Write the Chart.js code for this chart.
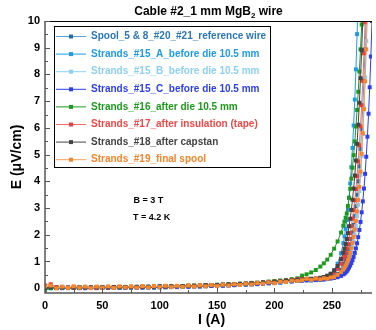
<!DOCTYPE html>
<html>
<head>
<meta charset="utf-8">
<script src="https://cdn.jsdelivr.net/npm/chart.js@4.4.1/dist/chart.umd.min.js"></script>
<style>
  html, body { margin: 0; padding: 0; background: #fff; }
  #wrap { width: 376px; height: 330px; }
</style>
</head>
<body>
<div id="wrap"><canvas id="ec" width="376" height="330"></canvas></div>
<script>
// current grid (A)
const current = [0,5,10,15,20,25,30,35,40,45,50,55,60,65,70,75,80,85,90,95,100,105,110,115,120,125,130,135,140,145,150,155,160,165,170,175,180,185,190,195,200,205,210,215,220,
  224,228,232,236,240,243,246,249,252,255,258,
  260,261,262,263,264,265,266,267,268,269,270,271,272,273,274,275,276,277,278,279,280,281,282,283,284,285,286];

// E (uV/cm) per sample
const spool = [0.01,0.00,0.00,0.01,0.00,0.01,0.00,0.01,0.01,0.00,0.01,0.01,0.01,0.02,0.01,0.02,0.02,0.02,0.03,0.02,0.03,0.03,0.04,0.04,0.05,0.05,0.06,0.06,0.07,0.08,0.08,0.09,0.10,0.11,0.12,0.13,0.14,0.15,0.17,0.18,0.19,0.21,0.23,0.25,0.27,
  0.28,0.29,0.29,0.30,0.31,0.33,0.35,0.39,0.45,0.54,0.69,
  0.83,0.92,1.03,1.15,1.29,1.45,1.63,1.84,2.09,2.37,2.70,3.07,3.50,4.00,4.56,5.21,5.96,6.82,7.81,8.94,10.2,11.7];
const strandA = [0.03,0.02,0.01,0.02,0.02,0.01,0.02,0.02,0.03,0.02,0.02,0.03,0.03,0.03,0.04,0.03,0.04,0.04,0.04,0.05,0.05,0.06,0.06,0.06,0.07,0.08,0.08,0.09,0.10,0.10,0.11,0.12,0.13,0.14,0.15,0.16,0.17,0.19,0.20,0.21,0.23,0.24,0.26,0.28,0.29,
  0.31,0.32,0.32,0.33,0.36,0.39,0.45,0.54,0.68,0.92,1.31,
  1.69,1.94,2.22,2.55,2.94,3.39,3.92,4.53,5.25,6.09,7.06,8.19,9.51,11.0];
const strandB = [0.04,0.03,0.03,0.02,0.03,0.03,0.02,0.03,0.03,0.03,0.04,0.03,0.04,0.04,0.04,0.05,0.05,0.05,0.05,0.06,0.06,0.06,0.07,0.07,0.08,0.08,0.09,0.10,0.10,0.11,0.12,0.13,0.14,0.15,0.16,0.17,0.18,0.19,0.21,0.22,0.24,0.25,0.27,0.29,0.30,
  0.31,0.32,0.32,0.33,0.34,0.35,0.36,0.38,0.41,0.46,0.55,
  0.64,0.70,0.76,0.84,0.94,1.05,1.18,1.34,1.53,1.75,2.01,2.32,2.69,3.12,3.63,4.23,4.94,5.77,6.75,7.89,9.25,10.8];
const strandC = [0.00,0.01,0.01,0.00,0.01,0.01,0.01,0.00,0.01,0.01,0.02,0.01,0.02,0.02,0.02,0.03,0.02,0.03,0.03,0.03,0.04,0.04,0.05,0.05,0.06,0.06,0.07,0.07,0.08,0.09,0.09,0.10,0.11,0.12,0.13,0.14,0.15,0.16,0.17,0.19,0.20,0.22,0.24,0.26,0.28,
  0.29,0.30,0.30,0.31,0.32,0.33,0.34,0.36,0.38,0.41,0.46,
  0.52,0.55,0.59,0.64,0.70,0.77,0.85,0.94,1.05,1.17,1.32,1.49,1.68,1.91,2.18,2.48,2.84,3.25,3.73,4.28,4.92,5.67,6.53,7.52,8.67,10.0,11.5];
const strand16 = [-0.08,0.00,0.01,0.02,0.01,0.02,0.02,0.03,0.02,0.03,0.03,0.03,0.04,0.03,0.04,0.04,0.05,0.05,0.05,0.06,0.06,0.07,0.07,0.08,0.08,0.09,0.10,0.10,0.11,0.12,0.13,0.14,0.15,0.16,0.17,0.18,0.20,0.21,0.23,0.25,0.27,0.29,0.31,0.34,0.37,
  0.47,0.52,0.59,0.68,0.81,0.93,1.07,1.25,1.48,1.75,2.08,
  2.34,2.49,2.64,2.80,3.08,3.38,3.72,4.10,4.51,4.98,5.49,6.05,6.67,7.35,8.11,8.94,9.87,10.9];
const strand17 = [0.10,0.15,0.04,0.03,0.03,0.02,0.03,0.03,0.03,0.02,0.03,0.03,0.04,0.04,0.04,0.04,0.05,0.05,0.05,0.06,0.06,0.06,0.07,0.07,0.08,0.09,0.09,0.10,0.11,0.11,0.12,0.13,0.14,0.15,0.16,0.17,0.19,0.20,0.22,0.23,0.25,0.27,0.29,0.31,0.34,
  0.34,0.35,0.35,0.36,0.38,0.41,0.44,0.50,0.59,0.72,0.92,
  1.10,1.21,1.34,1.49,1.65,1.85,2.06,2.32,2.60,2.92,3.29,3.71,4.19,4.74,5.35,6.06,6.85,7.76,8.79,9.95,11.2];
const strand18 = [0.02,0.03,0.02,0.03,0.02,0.03,0.03,0.03,0.03,0.04,0.04,0.04,0.04,0.05,0.05,0.05,0.05,0.06,0.06,0.06,0.07,0.07,0.07,0.08,0.08,0.09,0.09,0.10,0.11,0.11,0.12,0.13,0.14,0.15,0.16,0.17,0.18,0.19,0.21,0.22,0.24,0.26,0.28,0.30,0.32,
  0.33,0.34,0.35,0.36,0.39,0.42,0.47,0.54,0.66,0.83,1.09,
  1.33,1.48,1.65,1.84,2.06,2.32,2.60,2.93,3.31,3.73,4.22,4.78,5.40,6.12,6.94,7.86,8.91,10.1,11.4];
const strand19 = [0.05,0.10,0.00,0.06,0.01,0.07,0.02,0.06,0.00,0.06,0.02,0.07,0.01,0.07,0.03,0.07,0.02,0.08,0.03,0.08,0.04,0.09,0.04,0.09,0.05,0.10,0.06,0.11,0.07,0.12,0.08,0.13,0.10,0.15,0.12,0.17,0.14,0.19,0.17,0.22,0.19,0.24,0.23,0.28,0.27,
  0.30,0.35,0.31,0.36,0.33,0.37,0.35,0.40,0.41,0.50,0.60,
  0.70,0.77,0.85,0.94,1.05,1.17,1.32,1.49,1.69,1.92,2.19,2.51,2.87,3.30,3.79,4.36,5.03,5.80,6.70,7.74,8.94,10.3,11.9];

const labels = [
  "Spool_5 & 8_#20_#21_reference wire",
  "Strands_#15_A_before die 10.5 mm",
  "Strands_#15_B_before die 10.5 mm",
  "Strands_#15_C_before die 10.5 mm",
  "Strands_#16_after die 10.5 mm",
  "Strands_#17_after insulation (tape)",
  "Strands_#18_after capstan",
  "Strands_#19_final spool"
];
const series = [spool, strandA, strandB, strandC, strand16, strand17, strand18, strand19];

const xTicks = [0, 50, 100, 150, 200, 250];
const yTicks = [0, 1, 2, 3, 4, 5, 6, 7, 8, 9, 10];

// style
const lineColors = ["#5a9fd4", "#1f9be8", "#8dd0f5", "#2b3ef0", "#1e9a1e", "#f36a6a", "#444444", "#f7a05a"];
const markColors = ["#1f6eae", "#1f9be8", "#8dd0f5", "#2b3ef0", "#1e9a1e", "#f03c3c", "#444444", "#f5862a"];
const textColors = ["#2b77b5", "#1f9be8", "#8dd0f5", "#2b3ef0", "#1e9a1e", "#f04848", "#444444", "#f5842a"];
const FONT = "'Liberation Sans', Arial, sans-serif";

const frame = {
  id: "frame",
  afterDatasetsDraw(chart) {
    const { ctx, chartArea: a } = chart;
    // legend box
    const bx = a.left + 9, by = a.top + 5, bw = 216, bh = 141;
    ctx.save();
    ctx.fillStyle = "#fff";
    ctx.fillRect(bx, by, bw, bh);
    ctx.strokeStyle = "#000";
    ctx.lineWidth = 1;
    ctx.strokeRect(bx + 0.5, by + 0.5, bw, bh);
    ctx.font = "bold 10px " + FONT;
    ctx.textBaseline = "middle";
    labels.forEach((t, i) => {
      const yy = by + 10.5 + i * 17.6;
      ctx.strokeStyle = lineColors[i];
      ctx.beginPath();
      ctx.moveTo(bx + 2, yy);
      ctx.lineTo(bx + 32, yy);
      ctx.stroke();
      ctx.fillStyle = markColors[i];
      ctx.fillRect(bx + 15, yy - 2, 4, 4);
      ctx.fillStyle = textColors[i];
      ctx.fillText(t, bx + 37, yy);
    });
    ctx.restore();
  },
  afterDraw(chart) {
    const { ctx, chartArea: a, scales: { x, y } } = chart;
    ctx.save();
    // axes
    ctx.strokeStyle = "#000";
    ctx.lineWidth = 1;
    ctx.beginPath();
    ctx.moveTo(a.left, a.top + 0.5);
    ctx.lineTo(a.right, a.top + 0.5);
    ctx.stroke();
    ctx.strokeStyle = "#555";
    ctx.lineWidth = 1.5;
    ctx.beginPath();
    ctx.moveTo(a.left, a.top);
    ctx.lineTo(a.left, a.bottom);
    ctx.lineTo(a.right, a.bottom);
    ctx.stroke();
    // inward ticks
    ctx.lineWidth = 1;
    ctx.beginPath();
    for (let v = 0; v <= 285; v += 25) {
      const px = Math.round(x.getPixelForValue(v)) + 0.5;
      const len = v % 50 === 0 ? 5 : 3;
      ctx.moveTo(px, a.bottom);
      ctx.lineTo(px, a.bottom - len);
    }
    for (let v = 0; v <= 10; v += 0.5) {
      const py = Math.round(y.getPixelForValue(v)) + 0.5;
      const len = Number.isInteger(v) ? 5 : 3;
      ctx.moveTo(a.left, py);
      ctx.lineTo(a.left + len, py);
    }
    ctx.stroke();

    // title with subscript
    ctx.fillStyle = "#000";
    ctx.textBaseline = "middle";
    ctx.textAlign = "left";
    const big = "bold 12px " + FONT, small = "bold 8px " + FONT;
    ctx.font = big;
    const p1 = "Cable #2_1 mm MgB", p3 = " wire";
    const w1 = ctx.measureText(p1).width, w3 = ctx.measureText(p3).width;
    ctx.font = small;
    const w2 = ctx.measureText("2").width;
    let tx = (a.left + a.right) / 2 - (w1 + w2 + w3) / 2;
    const ty = 12;
    ctx.font = big;
    ctx.fillText(p1, tx, ty);
    ctx.font = small;
    ctx.fillText("2", tx + w1, ty + 4);
    ctx.font = big;
    ctx.fillText(p3, tx + w1 + w2, ty);

    // axis titles
    ctx.font = "bold 14px " + FONT;
    ctx.textAlign = "center";
    ctx.fillText("I (A)", (a.left + a.right) / 2 + 3, 320);
    ctx.save();
    ctx.translate(17, (a.top + a.bottom) / 2);
    ctx.rotate(-Math.PI / 2);
    ctx.fillText("E (\u03BCV/cm)", 0, 0);
    ctx.restore();

    // conditions
    ctx.font = "bold 9px " + FONT;
    ctx.fillText("B = 3 T", x.getPixelForValue(90), y.getPixelForValue(3.3));
    ctx.fillText("T = 4.2 K", x.getPixelForValue(93), y.getPixelForValue(2.63));
    ctx.restore();
  }
};

new Chart(document.getElementById("ec").getContext("2d"), {
  type: "line",
  data: {
    datasets: series.map((vals, i) => ({
      label: labels[i],
      data: vals.map((v, k) => ({ x: current[k], y: v })),
      borderColor: lineColors[i],
      backgroundColor: markColors[i],
      pointBackgroundColor: markColors[i],
      pointBorderColor: markColors[i],
      borderWidth: 1,
      pointStyle: "rect",
      pointRadius: 2.8,
      pointBorderWidth: 0,
      tension: 0,
      order: series.length - i
    }))
  },
  options: {
    responsive: false,
    animation: false,
    devicePixelRatio: 1,
    layout: { padding: { top: 21, right: 0, left: 0, bottom: 0 } },
    plugins: { legend: { display: false }, tooltip: { enabled: false }, title: { display: false } },
    scales: {
      x: {
        type: "linear",
        min: 0,
        max: 285,
        afterBuildTicks: s => { s.ticks = xTicks.map(v => ({ value: v })); },
        afterFit: s => { s.height = 37; },
        grid: { display: false, drawTicks: false },
        border: { display: false },
        ticks: { color: "#000", padding: 6, maxRotation: 0, font: { family: FONT, size: 11, weight: "bold" } }
      },
      y: {
        type: "linear",
        min: -0.18,
        max: 10,
        afterBuildTicks: s => { s.ticks = yTicks.map(v => ({ value: v })); },
        afterFit: s => { s.width = 45; },
        grid: { display: false, drawTicks: false },
        border: { display: false },
        ticks: { color: "#000", padding: 5, font: { family: FONT, size: 11, weight: "bold" } }
      }
    }
  },
  plugins: [frame]
});
</script>
</body>
</html>
